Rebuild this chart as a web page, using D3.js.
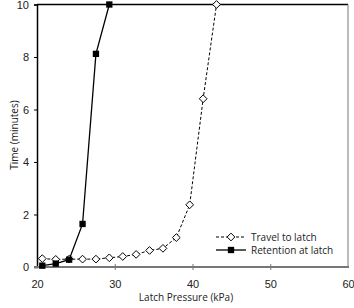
<!DOCTYPE html>
<html>
<head>
<meta charset="utf-8">
<script src="https://cdn.jsdelivr.net/npm/d3@7"></script>
<style>
  body { margin: 0; background: #fff; }
  svg { display: block; font-family: "Open Sans", "Noto Sans", sans-serif; }
</style>
</head>
<body>
<svg width="354" height="308"></svg>
<script>
// pressure in kPa (0.25 psi steps)
const travelX = [20.68, 22.41, 24.13, 25.86, 27.58, 29.30, 31.03, 32.75, 34.47, 36.20, 37.92, 39.64, 41.37, 43.09];
const travelY = [0.32, 0.29, 0.30, 0.30, 0.30, 0.35, 0.40, 0.48, 0.63, 0.71, 1.12, 2.37, 6.41, 10.0];
const retentionX = [20.68, 22.41, 24.13, 25.86, 27.58, 29.30];
const retentionY = [0.05, 0.13, 0.28, 1.64, 8.12, 10.0];
const xTicks = [20, 30, 40, 50, 60];
const yTicks = [0, 2, 4, 6, 8, 10];

const svg = d3.select("svg");
const mLeft = 37, mRight = 348, mTop = 4.5, mBottom = 267;

const x = d3.scaleLinear().domain([20, 60]).range([mLeft, mRight]);
const y = d3.scaleLinear().domain([0, 10]).range([mBottom, mTop]);

// frame: top black, right gray
svg.append("line").attr("x1", mLeft).attr("x2", mRight).attr("y1", mTop).attr("y2", mTop)
    .attr("stroke", "#000").attr("stroke-width", 1.3);
svg.append("line").attr("x1", mRight).attr("x2", mRight).attr("y1", mTop).attr("y2", mBottom)
    .attr("stroke", "#777").attr("stroke-width", 1);

// y axis
const yAxis = svg.append("g")
    .attr("transform", `translate(${mLeft},0)`)
    .call(d3.axisLeft(y).tickValues(yTicks).tickSize(3).tickPadding(5));
yAxis.select(".domain").attr("stroke", "#000").attr("stroke-width", 1.5);
yAxis.selectAll(".tick text").style("font-size", "11px").attr("fill", "#222");

// x axis
const xAxis = svg.append("g")
    .attr("transform", `translate(0,${mBottom})`)
    .call(d3.axisBottom(x).tickValues(xTicks).tickSize(0).tickPadding(13));
xAxis.select(".domain").attr("d", `M${mLeft - 3},0H${mRight + 1}`)
    .attr("stroke", "#777").attr("stroke-width", 2);
xAxis.selectAll(".tick text").style("font-size", "11px").attr("fill", "#222");
xAxis.selectAll(".tick").filter(d => d > 20 && d < 60).append("line")
    .attr("y1", -3).attr("y2", 3).attr("stroke", "#777").attr("stroke-width", 1);

// axis titles
svg.append("text").attr("x", 186).attr("y", 301)
    .attr("text-anchor", "middle").style("font-size", "10px").attr("fill", "#222")
    .text("Latch Pressure (kPa)");
svg.append("text").attr("transform", `translate(18,135) rotate(-90)`)
    .attr("text-anchor", "middle").style("font-size", "10px").attr("fill", "#222")
    .text("Time (minutes)");

const line = d3.line().x(d => x(d[0])).y(d => y(d[1]));
const travel = d3.zip(travelX, travelY);
const retention = d3.zip(retentionX, retentionY);

svg.append("path").datum(travel).attr("d", line)
    .attr("fill", "none").attr("stroke", "#000").attr("stroke-width", 1)
    .attr("stroke-dasharray", "3,2");
svg.append("path").datum(retention).attr("d", line)
    .attr("fill", "none").attr("stroke", "#000").attr("stroke-width", 1.3);

const diamond = d3.symbol().type(d3.symbolDiamond2).size(38);
const square = d3.symbol().type(d3.symbolSquare).size(40);

svg.append("g").selectAll("path").data(travel).join("path")
    .attr("transform", d => `translate(${x(d[0])},${y(d[1])})`)
    .attr("d", diamond).attr("fill", "#fff").attr("stroke", "#000").attr("stroke-width", 1);
svg.append("g").selectAll("path").data(retention).join("path")
    .attr("transform", d => `translate(${x(d[0])},${y(d[1])})`)
    .attr("d", square).attr("fill", "#000");

// legend
const legend = svg.append("g");
const items = [
    { name: "Travel to latch", dash: "3,2", sym: diamond, fill: "#fff" },
    { name: "Retention at latch", dash: null, sym: square, fill: "#000" },
];
items.forEach((it, i) => {
    const ly = 237 + i * 13;
    legend.append("line").attr("x1", 216).attr("x2", 246).attr("y1", ly).attr("y2", ly)
        .attr("stroke", "#000").attr("stroke-width", it.dash ? 1 : 1.3)
        .attr("stroke-dasharray", it.dash);
    legend.append("path").attr("transform", `translate(231,${ly})`).attr("d", it.sym)
        .attr("fill", it.fill).attr("stroke", it.fill === "#fff" ? "#000" : "none");
    legend.append("text").attr("x", 251).attr("y", ly + 3.5)
        .style("font-size", "10px").attr("fill", "#222").text(it.name);
});
</script>
</body>
</html>
